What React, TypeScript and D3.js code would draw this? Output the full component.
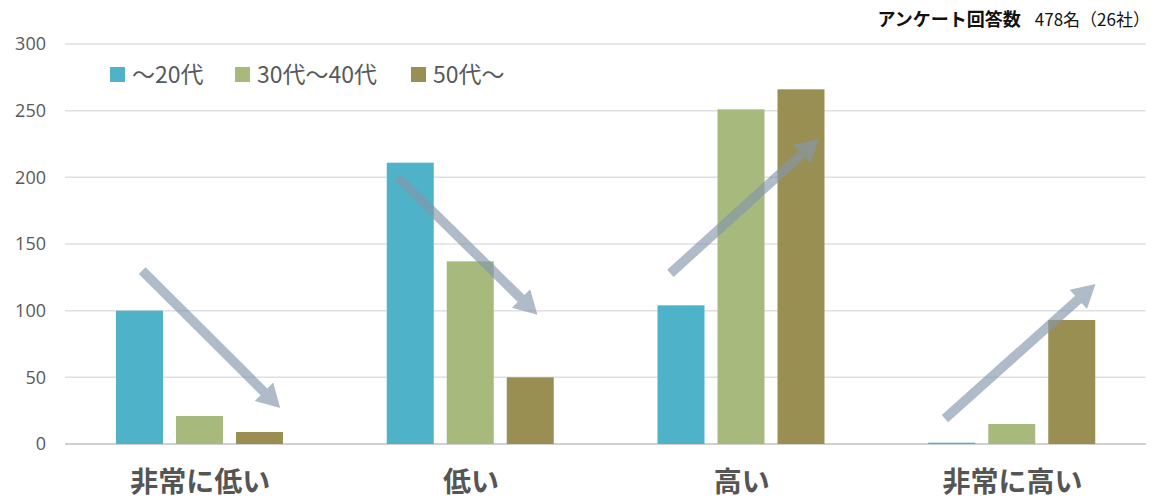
import React from "react";
import * as d3 from "d3";

const categories = ["非常に低い", "低い", "高い", "非常に高い"];
const seriesNames = ["～20代", "30代～40代", "50代～"];
const young = [100, 211, 104, 1];
const middle = [21, 137, 251, 15];
const senior = [9, 50, 266, 93];
const yTicks = [0, 50, 100, 150, 200, 250, 300];
const colors = ["#4eb3c8", "#a7b97d", "#9a8f52"];

// Trend arrows: [category index, position within band (0..1), value]
const arrowStarts = [
  [0, 0.285, 130],
  [1, 0.23, 200],
  [2, 0.236, 128],
  [3, 0.25, 19],
];
const arrowEnds = [
  [0, 0.795, 27],
  [1, 0.745, 97],
  [2, 0.785, 229],
  [3, 0.806, 120],
];

const W = 1154;
const H = 500;
const margin = { left: 65, right: 6, top: 44, bottom: 56 };

export default function App() {
  const series = [young, middle, senior];
  const x = d3
    .scaleBand<string>()
    .domain(categories)
    .range([margin.left, W - margin.right])
    .paddingInner(0)
    .paddingOuter(0);
  const inner = d3
    .scaleBand<number>()
    .domain([0, 1, 2])
    .range([51, 218])
    .paddingInner(13 / 60)
    .paddingOuter(0);
  const y = d3
    .scaleLinear()
    .domain([0, 300])
    .range([H - margin.bottom, margin.top]);

  const jp = "'Noto Sans CJK JP', 'Noto Sans', sans-serif";
  const num = "'Open Sans', 'Noto Sans', sans-serif";

  const arrowPoint = (p: number[]) => {
    const c = categories[p[0]];
    return [(x(c) as number) + p[1] * x.bandwidth(), y(p[2])];
  };

  // Thick arrow outline: shaft plus triangular head, as one polygon
  const arrowPath = (s: number[], e: number[]) => {
    const [x1, y1] = arrowPoint(s);
    const [x2, y2] = arrowPoint(e);
    const len = Math.hypot(x2 - x1, y2 - y1);
    const ux = (x2 - x1) / len;
    const uy = (y2 - y1) / len;
    const nx = -uy;
    const ny = ux;
    const shaft = 4.8;
    const headW = 13;
    const headL = 23;
    const bx = x2 - ux * headL;
    const by = y2 - uy * headL;
    const pts = [
      [x1 + nx * shaft, y1 + ny * shaft],
      [bx + nx * shaft, by + ny * shaft],
      [bx + nx * headW, by + ny * headW],
      [x2, y2],
      [bx - nx * headW, by - ny * headW],
      [bx - nx * shaft, by - ny * shaft],
      [x1 - nx * shaft, y1 - ny * shaft],
    ];
    return d3.line()(pts as [number, number][]) + "Z";
  };

  return (
    <svg width={W} height={H} style={{ position: "absolute", left: 0, top: 0, background: "#fff" }}>
      {yTicks.map((t) => (
        <g key={t}>
          <line
            x1={margin.left}
            x2={W - margin.right - 2}
            y1={y(t)}
            y2={y(t)}
            stroke={t === 0 ? "#d0d0d0" : "#e0e0e0"}
            strokeWidth={t === 0 ? 2 : 1.5}
          />
          <text
            x={46}
            y={y(t)}
            dy="0.35em"
            textAnchor="end"
            fontFamily={num}
            fontSize={18}
            fill="#595959"
          >
            {t}
          </text>
        </g>
      ))}

      {categories.map((c, ci) => (
        <g key={c}>
          {series.map((s, si) => (
            <rect
              key={si}
              x={(x(c) as number) + (inner(si) as number)}
              y={y(s[ci])}
              width={inner.bandwidth()}
              height={y(0) - y(s[ci])}
              fill={colors[si]}
            />
          ))}
          <text
            x={(x(c) as number) + x.bandwidth() / 2}
            y={482}
            dy="0.35em"
            textAnchor="middle"
            fontFamily={jp}
            fontWeight="bold"
            fontSize={28}
            fill="#555555"
          >
            {c}
          </text>
        </g>
      ))}

      {arrowStarts.map((s, i) => (
        <path key={i} d={arrowPath(s, arrowEnds[i])} fill="#8496aa" fillOpacity={0.65} />
      ))}

      {seriesNames.map((n, i) => {
        const lx = [110, 235, 411][i];
        return (
          <g key={n}>
            <rect x={lx} y={67} width={15} height={15} fill={colors[i]} />
            <text
              x={lx + 22}
              y={75}
              dy="0.35em"
              fontFamily={jp}
              fontSize={23}
              fill="#595959"
            >
              {n}
            </text>
          </g>
        );
      })}

      <text x={1150} y={26} textAnchor="end" fontFamily={jp} fontSize={18} fill="#111">
        <tspan fontWeight="bold">アンケート回答数</tspan>
        <tspan dx={14} fontSize={17}>478名（26社）</tspan>
      </text>
    </svg>
  );
}
